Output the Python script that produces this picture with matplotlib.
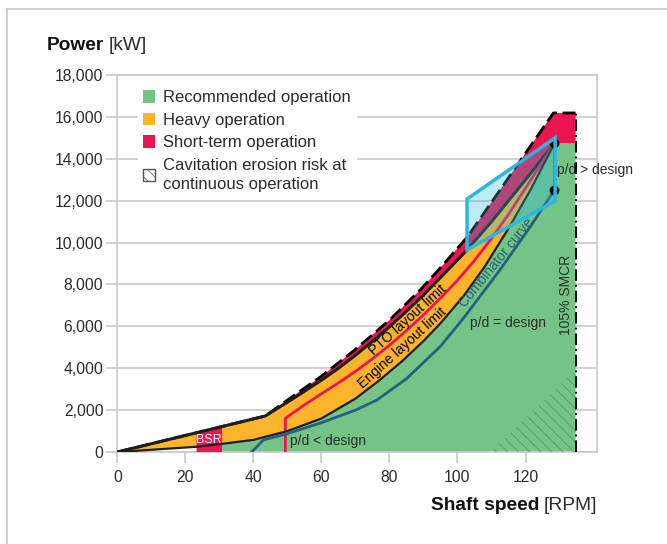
import matplotlib
matplotlib.use("Agg")
import matplotlib.pyplot as plt
from matplotlib.patches import Patch
from matplotlib.lines import Line2D
import numpy as np

plt.rcParams['font.family'] = ['Liberation Sans', 'DejaVu Sans']
plt.rcParams['hatch.linewidth'] = 0.5

# ---- data ----
outer_speed = [0, 43.5, 50, 60, 70, 80, 89.1, 95, 102.9, 110, 115, 120, 128.2]
outer_power = [0, 1720, 2480, 3620, 4900, 6300, 7750, 8800, 10270, 11930, 13100, 14270, 16190]

a_speed = [0, 43.5, 50, 55, 60, 65, 70, 75, 80, 85, 90, 95, 102.8, 110, 115, 120, 128.5]
a_power = [0, 1720, 2380, 2900, 3430, 4000, 4620, 5280, 5980, 6720, 7500, 8330, 9650, 11000, 12000, 13000, 14740]

pto_speed = [49.4, 49.4, 55, 60, 65, 70, 75, 80, 85, 90, 95, 100, 105, 110, 115, 120, 128.5]
pto_power = [0, 1610, 2250, 2780, 3300, 3850, 4450, 5100, 5800, 6550, 7350, 8200, 9150, 10200, 11350, 12600, 14740]

b_speed = [0, 23.3, 30.8, 40, 50, 60, 70, 77, 83.8, 90, 95, 101.8, 108, 115, 121.4, 128.5]
b_power = [0, 250, 390, 580, 1000, 1600, 2550, 3420, 4350, 5300, 6150, 7450, 8850, 10680, 12500, 14740]

comb_speed = [39.5, 41, 42.9, 50, 60, 70, 76.3, 85, 95, 101.8, 112.5, 121.4, 128.5]
comb_power = [0, 250, 570, 880, 1400, 2000, 2480, 3500, 5050, 6400, 8700, 10760, 12510]

smcr_speed = 128.5
smcr_power = 14740
pd_low_power = 12510
max_speed = 134.7
max_power = 16190

bsr_speed = [23.3, 30.8]

box_speed = [102.8, 128.7, 128.7, 102.8]
box_power = [9650, 11990, 15000, 12080]

hatch_speed = [109.5, 134.7, 134.7]
hatch_power = [0, 0, 3900]

xticks = [0, 20, 40, 60, 80, 100, 120]
yticks = list(range(0, 18001, 2000))

GREEN = '#74c487'
ORANGE = '#fbb42c'
RED = '#ec1552'
CYAN = '#2bb8dc'
DBLUE = '#275f7e'
GRID = '#c9c9c9'
TXT = '#2b2b2b'

fig = plt.figure(figsize=(6.67, 5.44), dpi=100)
ax = fig.add_axes([0.1759, 0.1691, 0.895 - 0.1759, 0.862 - 0.1691])

# figure border
fig.add_artist(Line2D([0.0105, 0.0105], [0, 0.984], color=GRID, lw=1.2, transform=fig.transFigure))
fig.add_artist(Line2D([0.0105, 1.0], [0.984, 0.984], color=GRID, lw=1.2, transform=fig.transFigure))

# green region (right of BSR, below line B)
gsp = [s for s in b_speed if s >= bsr_speed[1]]
gpw = [p for s, p in zip(b_speed, b_power) if s >= bsr_speed[1]]
gx = [bsr_speed[1]] + gsp + [max_speed, max_speed]
gy = [0] + gpw + [smcr_power, 0]
ax.fill(gx, gy, color=GREEN, lw=0, zorder=2)

# orange region
ox = list(a_speed) + list(b_speed[::-1])
oy = list(a_power) + list(b_power[::-1])
ax.fill(ox, oy, color=ORANGE, lw=0, zorder=3)

# red region (short-term)
rx = list(outer_speed) + [max_speed, max_speed] + list(a_speed[::-1])
ry = list(outer_power) + [max_power, smcr_power] + list(a_power[::-1])
ax.fill(rx, ry, color=RED, lw=0, zorder=3)

# BSR block (up to line A)
bA = list(np.interp(bsr_speed, a_speed, a_power))
ax.fill([bsr_speed[0], bsr_speed[0], bsr_speed[1], bsr_speed[1]], [0, bA[0], bA[1], 0],
        color=RED, lw=0, zorder=4)
ax.text(sum(bsr_speed) / 2, 560, 'BSR', color='white', fontsize=9, ha='center', va='center', zorder=6)

# hatch cavitation
ax.fill(hatch_speed, hatch_power, facecolor='none', edgecolor='#4a955e', hatch='\\\\\\', lw=0, zorder=4)

# lines
ax.plot(outer_speed + [max_speed], outer_power + [max_power], color='black', lw=2, ls=(0, (5, 2)), zorder=7)
ax.plot(a_speed, a_power, color='#1e1e1e', lw=2.2, zorder=7)
ax.plot(pto_speed, pto_power, color=RED, lw=2, zorder=7)
ax.plot(b_speed, b_power, color='#1e1e1e', lw=1.6, zorder=7)
ax.plot(comb_speed, comb_power, color=DBLUE, lw=2, zorder=7)
ax.plot([max_speed, max_speed], [0, max_power], color='black', lw=1.4, ls=(0, (6, 2, 1, 2)), zorder=7)
ax.plot([smcr_speed, smcr_speed], [pd_low_power, smcr_power], color='#1f3f4f', lw=2, zorder=8)
ax.plot([smcr_speed, smcr_speed], [pd_low_power, smcr_power], 'o', color='black', ms=6, zorder=9)

# cyan box
ax.fill(box_speed, box_power, facecolor=CYAN, alpha=0.3, lw=0, zorder=8)
ax.fill(box_speed, box_power, facecolor='none', edgecolor=CYAN, lw=2.5, zorder=9)

# annotations
fs = 10
ax.text(85.3, 6300, 'PTO layout limit', rotation=42, fontsize=fs, color='black', ha='center', va='center', zorder=10, rotation_mode='anchor')
ax.text(83.8, 4990, 'Engine layout limit', rotation=42, fontsize=fs, color='black', ha='center', va='center', zorder=10, rotation_mode='anchor')
ax.text(111.5, 9050, 'Combinator curve', rotation=51, fontsize=fs, color=DBLUE, ha='center', va='center', zorder=10, rotation_mode='anchor')
ax.text(103.7, 6160, 'p/d = design', fontsize=fs, color=TXT, ha='left', va='center', zorder=10)
ax.text(50.8, 525, 'p/d < design', fontsize=fs, color=TXT, ha='left', va='center', zorder=10)
ax.text(129.3, 13470, 'p/d > design', fontsize=fs, color=TXT, ha='left', va='center', zorder=10)
ax.text(131.9, 7520, '105% SMCR', rotation=90, fontsize=fs, color=TXT, ha='center', va='center', zorder=10)

# axes style
ax.set_xlim(0, 141)
ax.set_ylim(0, 18000)
ax.set_xticks(xticks)
ax.set_yticks(yticks)
ax.set_yticklabels([f'{v:,}' for v in yticks])
ax.tick_params(axis='both', colors=GRID, labelcolor=TXT, labelsize=11.3, length=8, width=1.2)
ax.tick_params(axis='y', pad=2)
ax.tick_params(axis='x', pad=5)
ax.grid(axis='y', color=GRID, lw=1.2, zorder=0)
ax.set_axisbelow(True)
for s in ax.spines.values():
    s.set_color(GRID)
    s.set_linewidth(1.2)

# axis titles: bold name + regular unit
fig.canvas.draw()
renderer = fig.canvas.get_renderer()
inv = fig.transFigure.inverted()

tfs = 13.8
t1 = fig.text(47 / 667, 1 - 46 / 544, 'Power', fontsize=tfs, fontweight='bold', color='#111111', va='center', ha='left')
bb = t1.get_window_extent(renderer)
x1 = inv.transform((bb.x1 + 4, 0))[0]
fig.text(x1, 1 - 46 / 544, '[kW]', fontsize=tfs, color=TXT, va='center', ha='left')

t3 = fig.text(0.895, 1 - 506 / 544, '[RPM]', fontsize=tfs, color=TXT, va='center', ha='right')
bb3 = t3.get_window_extent(renderer)
x3 = inv.transform((bb3.x0 - 4, 0))[0]
fig.text(x3, 1 - 506 / 544, 'Shaft speed', fontsize=tfs, fontweight='bold', color='#111111', va='center', ha='right')

handles = [Patch(facecolor=GREEN, edgecolor='none'),
           Patch(facecolor=ORANGE, edgecolor='none'),
           Patch(facecolor=RED, edgecolor='none'),
           Patch(facecolor='white', edgecolor='#555555', hatch='\\\\\\', lw=1)]
labels = ['Recommended operation', 'Heavy operation', 'Short-term operation',
          'Cavitation erosion risk at\ncontinuous operation']
leg = ax.legend(handles, labels, loc='upper left', bbox_to_anchor=(0.025, 0.995), frameon=True,
                fontsize=12, handlelength=0.75, handleheight=0.75, handletextpad=0.5,
                labelspacing=0.45, borderpad=0.3, framealpha=1, edgecolor='white', labelcolor=TXT)
for t in leg.get_texts():
    t.set_linespacing(1.35)
leg.set_zorder(11)

fig.savefig('out.png', dpi=100)
